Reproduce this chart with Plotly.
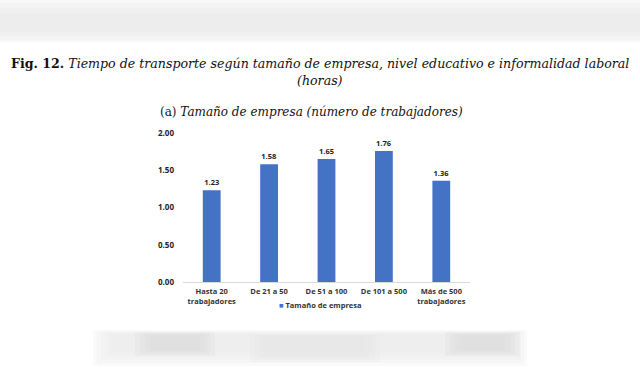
import plotly.graph_objects as go

categories = ["Hasta 20<br>trabajadores", "De 21 a 50", "De 51 a 100", "De 101 a 500", "Más de 500<br>trabajadores"]
values = [1.23, 1.58, 1.65, 1.76, 1.36]
value_labels = ["1.23", "1.58", "1.65", "1.76", "1.36"]
y_ticks = [0, 0.5, 1.0, 1.5, 2.0]
y_tick_labels = ["0.00", "0.50", "1.00", "1.50", "2.00"]
series_name = "Tamaño de empresa"

BLUE = "#4472C4"

fig = go.Figure()
fig.add_trace(go.Bar(
    x=categories, y=values, name=series_name,
    marker=dict(color=BLUE, line=dict(width=0)),
    text=value_labels, textposition="outside",
    textfont=dict(family="Open Sans", size=7.5, color="#222222", weight="bold"),
    cliponaxis=False, showlegend=False,
))

L, R, T, B = 183, 170, 133, 92
PW, PH = 640 - L - R, 374 - T - B

fig.update_layout(
    width=640, height=374,
    margin=dict(l=L, r=R, t=T, b=B),
    paper_bgcolor="white", plot_bgcolor="white",
    bargap=0.69,
    showlegend=False,
    xaxis=dict(showline=True, linecolor="#d9d9d9", linewidth=1, ticks="",
               tickfont=dict(family="Open Sans", size=7.5, color="#333333", weight="bold"),
               showgrid=False, ticklabelstandoff=2),
    yaxis=dict(range=[0, 2.0], tickvals=y_ticks, ticktext=y_tick_labels,
               showgrid=False, zeroline=False, showline=False,
               tickfont=dict(family="Open Sans", size=8, color="#222222", weight="bold"),
               ticklabelstandoff=8),
    font=dict(family="Open Sans"),
)

def ppx(x_px):
    return (x_px - L) / PW

def ppy(y_px):
    return (374 - B - y_px) / PH

def band(y_top_px, y_bot_px, x0_px, x1_px, color):
    fig.add_shape(type="rect", xref="paper", yref="paper",
                  x0=ppx(x0_px), x1=ppx(x1_px), y0=ppy(y_bot_px), y1=ppy(y_top_px),
                  line=dict(width=0), fillcolor=color, layer="below")

# blurred page fragments above and below the figure (soft layered bands)
band(0, 42, 0, 640, "rgba(246,246,246,0.8)")
band(3, 40, 0, 640, "rgba(240,240,240,0.5)")
band(8, 36, 0, 640, "rgba(236,236,236,0.5)")
band(14, 32, 0, 640, "rgba(232,232,232,0.3)")

for i in range(6):
    band(330 + i, 366 - 3 * i, 93 + 4 * i, 527 - 3 * i, "rgba(235,235,235,0.25)")
for i in range(4):
    band(332 + i, 356 - 2 * i, 135 + 5 * i, 215 - 5 * i, "rgba(220,220,220,0.25)")
    band(332 + i, 356 - 2 * i, 445 + 5 * i, 520 - 5 * i, "rgba(220,220,220,0.25)")
    band(334 + i, 362 - 2 * i, 250 + 5 * i, 380 - 5 * i, "rgba(232,232,232,0.2)")

fig.add_annotation(xref="paper", yref="paper", x=ppx(320), y=ppy(63), xanchor="center", yanchor="middle",
                   text="<b>Fig. 12.</b> <i>Tiempo de transporte según tamaño de empresa, nivel educativo e informalidad laboral</i>",
                   showarrow=False, font=dict(family="DejaVu Serif", size=12.6, color="#111111"))
fig.add_annotation(xref="paper", yref="paper", x=ppx(320), y=ppy(80), xanchor="center", yanchor="middle",
                   text="<i>(horas)</i>",
                   showarrow=False, font=dict(family="DejaVu Serif", size=12.6, color="#111111"))
fig.add_annotation(xref="paper", yref="paper", x=ppx(311), y=ppy(112), xanchor="center", yanchor="middle",
                   text="(a) <i>Tamaño de empresa (número de trabajadores)</i>",
                   showarrow=False, font=dict(family="DejaVu Serif", size=12, color="#111111"))

# legend entry (small square marker + label)
fig.add_annotation(xref="paper", yref="paper", x=ppx(320), y=ppy(305), xanchor="center", yanchor="middle",
                   text=f"<span style='color:{BLUE}'>■</span> {series_name}",
                   showarrow=False, font=dict(family="Open Sans", size=7.5, color="#333333", weight="bold"))

fig.write_html("out.html", config={"displayModeBar": False},
               post_script="document.body.style.margin='0';document.body.style.padding='0';")
